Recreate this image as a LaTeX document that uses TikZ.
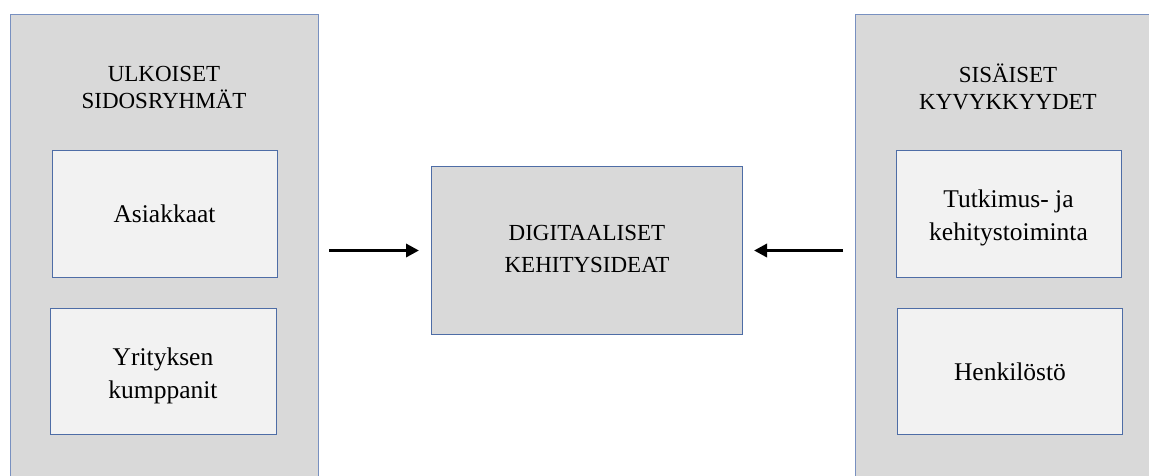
\documentclass[tikz,border=0pt]{standalone}
\usepackage{fontspec}
\setmainfont{Liberation Serif}
\usetikzlibrary{arrows.meta}
\definecolor{panelfill}{HTML}{D9D9D9}
\definecolor{boxfill}{HTML}{F2F2F2}
\definecolor{edge}{HTML}{4E6DA6}
\definecolor{paneledge}{HTML}{7890C0}
\tikzset{
  panel/.style={draw=paneledge, line width=1pt, fill=panelfill, anchor=north west, inner sep=0pt},
  itembox/.style={draw=edge, line width=1pt, fill=boxfill, anchor=north west, inner sep=0pt,
    align=center, font={\fontsize{25.5}{33}\selectfont}},
  itemtext/.style={align=center, inner sep=0pt, font={\fontsize{25.5}{33}\selectfont}},
  centrebox/.style={draw=edge, line width=1pt, fill=panelfill, anchor=north west, inner sep=0pt},
  centretext/.style={align=center, inner sep=0pt, font={\fontsize{23}{32}\selectfont}},
  heading/.style={align=center, inner sep=0pt, font={\fontsize{23}{27}\selectfont}},
  flow/.style={line width=3.5pt, -{Triangle[length=13pt,width=13pt]}}
}
\begin{document}
\begin{tikzpicture}[x=1pt, y=-1pt]
  \useasboundingbox (0,0) rectangle (1149,475);
  \clip (0,0) rectangle (1149,475);
  \fill[white] (0,0) rectangle (1149,475);

  % outer groups
  \node[panel, minimum width=308pt, minimum height=480pt] (lp) at (10,14) {};
  \node[panel, minimum width=306pt, minimum height=480pt] (rp) at (855,14) {};

  % group headings
  \node[heading] (lt) at (164,87) {ULKOISET\\SIDOSRYHMÄT};
  \node[heading] (rt) at (1008,87) {SISÄISET\\KYVYKKYYDET};

  % items of the left group
  \node[itembox, minimum width=225pt, minimum height=127pt] (asi) at (51.5,150) {Asiakkaat};
  \node[itembox, minimum width=226pt, minimum height=126pt] (kum) at (49.5,308) {};
  \node[itemtext] (kumt) at ([yshift=-4.3pt]kum.center) {Yrityksen\\kumppanit};

  % items of the right group
  \node[itembox, minimum width=225pt, minimum height=127pt] (tk) at (895.5,150) {};
  \node[itemtext] (tkt) at ([yshift=-4pt]tk.center) {Tutkimus- ja\\kehitystoiminta};
  \node[itembox, minimum width=225pt, minimum height=126pt] (hen) at (897,308) {Henkilöstö};

  % central box
  \node[centrebox, minimum width=311pt, minimum height=168pt] (cb) at (431,166) {};
  \node[centretext] (cbt) at ([yshift=2pt]cb.center) {DIGITAALISET\\KEHITYSIDEAT};

  % arrows into the central box
  \draw[flow, shorten <=10pt, shorten >=12pt] (lp.east |- cb.west) -- (cb.west);
  \draw[flow, shorten <=12pt, shorten >=11pt] (rp.west |- cb.east) -- (cb.east);
\end{tikzpicture}
\end{document}
